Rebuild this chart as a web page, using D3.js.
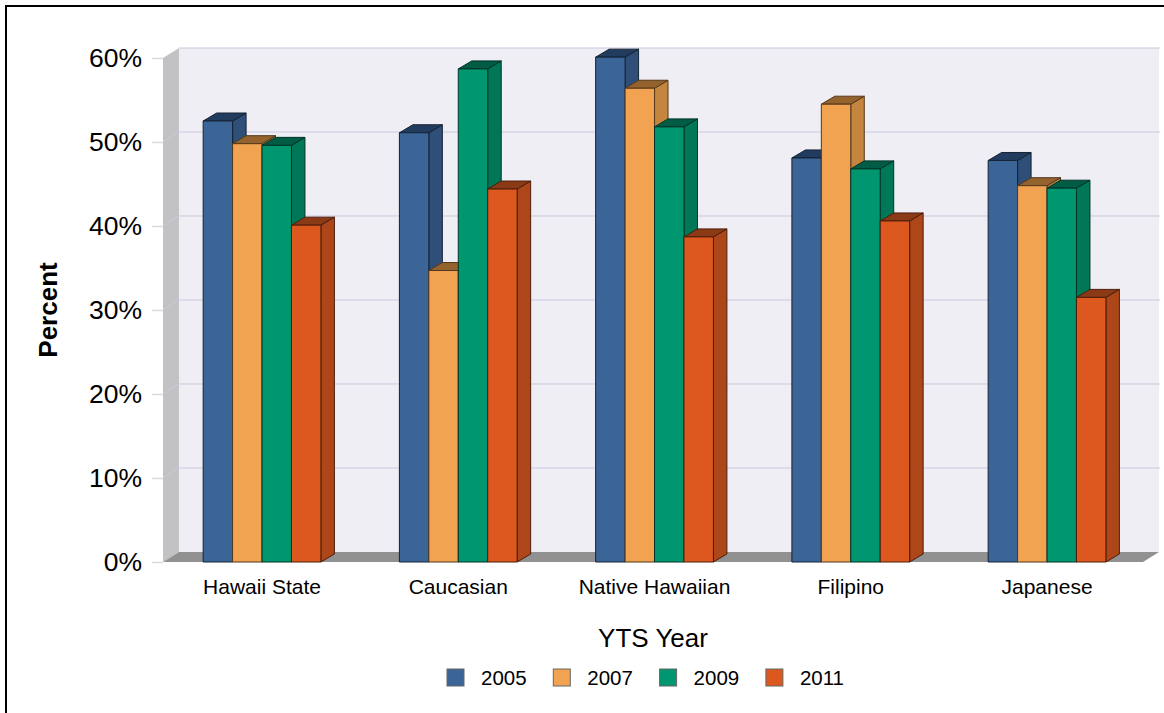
<!DOCTYPE html>
<html>
<head>
<meta charset="utf-8">
<script src="https://cdn.jsdelivr.net/npm/d3@7"></script>
<style>
  html, body { margin: 0; padding: 0; background: #fff; overflow: hidden; }
  svg { display: block; font-family: "Liberation Sans", Arial, sans-serif; }
  .domain { display: none; }
</style>
</head>
<body>
<svg id="chart"></svg>
<script>
const groups = ['Hawaii State', 'Caucasian', 'Native Hawaiian', 'Filipino', 'Japanese'];
const years = ['2005', '2007', '2009', '2011'];
const values2005 = [52.5, 51.1, 60.1, 48.1, 47.8];
const values2007 = [49.8, 34.7, 56.4, 54.5, 44.8];
const values2009 = [49.6, 58.7, 51.8, 46.8, 44.5];
const values2011 = [40.1, 44.4, 38.7, 40.6, 31.5];
const yTicks = [0, 10, 20, 30, 40, 50, 60];

const seriesValues = [values2005, values2007, values2009, values2011];
const frontColours = ['#3b6497', '#f2a352', '#00966f', '#dd581f'];
const sideColours = ['#2f4f78', '#c4853f', '#007858', '#ad4719'];
const topColours = ['#223c60', '#94622c', '#005c45', '#8a3a14'];

const width = 1164, height = 713;
const plot = { left: 163.9, right: 1145.15, top: 58, bottom: 562 };
const wallDx = 16, wallDy = 10;   // how far the back wall sits behind the front plane
const barDx = 13.5, barDy = 8;    // depth of each bar

const svg = d3.select('#chart').attr('width', width).attr('height', height);

const x = d3.scaleBand().domain(groups).range([plot.left, plot.right])
  .paddingInner(0.4).paddingOuter(0.2);
const xInner = d3.scaleBand().domain(years).range([0, x.bandwidth()]);
const y = d3.scaleLinear().domain([0, 60]).range([plot.bottom, plot.top]);

const poly = (pts) => pts.map((p) => p.join(',')).join(' ');

// frame: only top and left edges show
svg.append('path').attr('d', `M6,${height}V6H${width}`)
  .attr('fill', 'none').attr('stroke', '#000').attr('stroke-width', 2);

const left = 163;

// back wall, left wall, floor
svg.append('rect')
  .attr('x', left + wallDx).attr('y', plot.top - wallDy)
  .attr('width', 1159 - (left + wallDx))
  .attr('height', plot.bottom - plot.top)
  .attr('fill', '#efeef4');
svg.append('path').attr('d', `M${left + wallDx},${plot.top - wallDy}H1160`)
  .attr('stroke', '#c9c7dc').attr('stroke-width', 1).attr('fill', 'none');

svg.append('polygon').attr('fill', '#c2c2c4').attr('points', poly([
  [left, plot.top], [left + wallDx, plot.top - wallDy],
  [left + wallDx, plot.bottom - wallDy], [left, plot.bottom],
]));
svg.append('polygon').attr('fill', '#919191').attr('points', poly([
  [left, plot.bottom], [left + wallDx, plot.bottom - wallDy],
  [1159, plot.bottom - wallDy], [1143, plot.bottom],
]));

// gridlines run along the back wall and fold down the left wall
const grid = svg.append('g');
yTicks.filter((t) => t > 0 && t < 60).forEach((t) => {
  grid.append('path')
    .attr('d', `M${left},${y(t)}L${left + wallDx},${y(t) - wallDy}H1160`)
    .attr('fill', 'none').attr('stroke', '#cbc9de').attr('stroke-width', 1);
});

// y axis
const yAxis = svg.append('g')
  .attr('transform', `translate(${left},0)`)
  .call(d3.axisLeft(y).tickValues(yTicks).tickFormat((d) => d + '%').tickSize(11).tickPadding(10));
yAxis.selectAll('line').attr('stroke', '#d9d8e4').attr('stroke-width', 1.5);
yAxis.selectAll('text').attr('font-size', 26.5).attr('fill', '#000')
  .attr('font-family', '"Liberation Sans", Arial, sans-serif');

// bars, painted left to right so that nearer bars cover the sides of the previous one
const barStroke = (i) => d3.color(frontColours[i]).darker(3).formatHex();
groups.forEach((g, gi) => {
  const bars = svg.append('g').attr('class', 'group');
  years.forEach((yr, si) => {
    const v = seriesValues[si][gi];
    const x0 = x(g) + xInner(yr), x1 = x0 + xInner.bandwidth();
    const y0 = y(v), y1 = y(0);
    const bar = bars.append('g').attr('stroke', barStroke(si)).attr('stroke-width', 1)
      .attr('stroke-linejoin', 'round');
    bar.append('polygon').attr('fill', sideColours[si]).attr('points', poly([
      [x1, y0], [x1 + barDx, y0 - barDy], [x1 + barDx, y1 - barDy], [x1, y1],
    ]));
    bar.append('polygon').attr('fill', topColours[si]).attr('points', poly([
      [x0, y0], [x0 + barDx, y0 - barDy], [x1 + barDx, y0 - barDy], [x1, y0],
    ]));
    bar.append('rect').attr('x', x0).attr('y', y0)
      .attr('width', x1 - x0).attr('height', y1 - y0)
      .attr('fill', frontColours[si]);
  });
});

// x axis
const xAxis = svg.append('g')
  .attr('transform', `translate(0,${plot.bottom})`)
  .call(d3.axisBottom(x).tickSize(0).tickPadding(17));
xAxis.selectAll('text').attr('font-size', 21).attr('fill', '#000')
  .attr('font-family', '"Liberation Sans", Arial, sans-serif');

// axis titles
svg.append('text')
  .attr('transform', 'translate(56.5,310) rotate(-90)')
  .attr('text-anchor', 'middle')
  .attr('font-size', 26).attr('font-weight', 'bold')
  .text('Percent');
svg.append('text')
  .attr('x', 653).attr('y', 647)
  .attr('text-anchor', 'middle')
  .attr('font-size', 26)
  .text('YTS Year');

// legend
const legendStep = d3.scaleBand().domain(years).range([447, 447 + 106.3 * 4]);
const legend = svg.selectAll('.legend-item').data(years).join('g')
  .attr('class', 'legend-item')
  .attr('transform', (d) => `translate(${legendStep(d)},669)`);
legend.append('rect')
  .attr('width', 17).attr('height', 17)
  .attr('fill', (d, i) => frontColours[i])
  .attr('stroke', '#666').attr('stroke-width', 1);
legend.append('text')
  .attr('x', 34).attr('y', 16)
  .attr('font-size', 20.5)
  .text((d) => d);
</script>
</body>
</html>
